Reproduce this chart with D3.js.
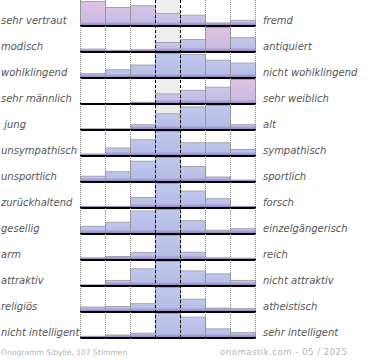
<!DOCTYPE html>
<html>
<head>
<meta charset="utf-8">
<script src="https://cdn.jsdelivr.net/npm/d3@7"></script>
<style>
  html, body { margin: 0; padding: 0; background: #fff; }
  svg { display: block; }
</style>
</head>
<body>
<svg id="chart" width="370" height="360"></svg>
<script>
// ---- data ----
const leftLabels = ["sehr vertraut", "modisch", "wohlklingend", "sehr männlich", " jung",
  "unsympathisch", "unsportlich", "zurückhaltend", "gesellig", "arm", "attraktiv",
  "religiös", "nicht intelligent"];
const rightLabels = ["fremd", "antiquiert", "nicht wohlklingend", "sehr weiblich", "alt",
  "sympathisch", "sportlich", "forsch", "einzelgängerisch", "reich", "nicht attraktiv",
  "atheistisch", "sehr intelligent"];
// votes per scale step (7 steps), 107 votes
const votes = [
  [28, 21, 23, 14, 12, 3, 6],
  [4, 2, 3, 15, 20, 40, 23],
  [4, 8, 13, 25, 24, 18, 15],
  [0, 0, 2, 16, 22, 27, 40],
  [1, 1, 7, 23, 33, 35, 7],
  [2, 10, 21, 32, 17, 17, 8],
  [7, 13, 27, 32, 20, 6, 2],
  [2, 2, 17, 41, 28, 15, 2],
  [9, 14, 28, 30, 16, 4, 6],
  [4, 7, 16, 56, 17, 4, 3],
  [1, 7, 23, 33, 20, 16, 7],
  [8, 9, 14, 43, 22, 6, 5],
  [2, 4, 7, 39, 33, 14, 8]
];
// how far each step is above the average of all names (estimated, 0..1)
const aboveAverage = [
  [1, 0.65, 0.65, 0.45, 0.4, 0.35, 0.3],
  [0.35, 0.35, 0.35, 0.45, 0.2, 1, 0.3],
  [0, 0, 0, 0, 0, 0, 0],
  [0, 0, 0.3, 0.45, 0.35, 0.5, 1],
  [0, 0, 0, 0, 0, 0, 0],
  [0, 0, 0, 0, 0, 0, 0],
  [0, 0, 0, 0, 0, 0, 0],
  [0, 0, 0, 0, 0, 0, 0],
  [0, 0, 0, 0, 0, 0, 0],
  [0, 0, 0, 0, 0, 0, 0],
  [0, 0, 0, 0, 0, 0, 0],
  [0, 0, 0, 0, 0, 0, 0],
  [0, 0, 0, 0, 0, 0, 0]
];
const steps = [0, 1, 2, 3, 4, 5, 6];
const footerLeft = "Onogramm Sibylle, 107 Stimmen";
const footerRight = "onomastik.com - 05 / 2025";

// ---- chart ----
const svg = d3.select("#chart");
const defs = svg.append("defs");

const x = d3.scaleBand().domain(steps).range([80, 255]).paddingInner(0).paddingOuter(0);
const rowIdx = d3.range(leftLabels.length);
const y = d3.scaleBand().domain(rowIdx).range([-1, -1 + 26 * rowIdx.length]).padding(0);
const barMax = 24;

const topColor = d3.scaleLinear().domain([0, 1]).range(["#c0c8ec", "#e0c3e4"]).interpolate(d3.interpolateRgb);
const botColor = d3.scaleLinear().domain([0, 1]).range(["#b4bae6", "#c7b9e0"]).interpolate(d3.interpolateRgb);

// center column background
svg.append("rect")
  .attr("x", x(3)).attr("y", 0)
  .attr("width", x.bandwidth()).attr("height", y(rowIdx.length - 1) + y.bandwidth() + 1)
  .attr("fill", "#eeeeee");

// bottom shade gradient
const shade = defs.append("linearGradient").attr("id", "shade")
  .attr("x1", 0).attr("y1", 0).attr("x2", 0).attr("y2", 1);
shade.append("stop").attr("offset", 0).attr("stop-color", "#8a78b8").attr("stop-opacity", 0);
shade.append("stop").attr("offset", 1).attr("stop-color", "#8a78b8").attr("stop-opacity", 0.75);

const rows = svg.selectAll("g.row").data(rowIdx).join("g").attr("class", "row");

rows.each(function (ri) {
  const g = d3.select(this);
  const base = y(ri) + y.bandwidth();
  const h = d3.scaleLinear().domain([0, d3.max(votes[ri])]).range([0, barMax]);
  const cells = steps.map(s => ({ s, v: votes[ri][s], a: aboveAverage[ri][s], id: `g${ri}_${s}` }))
    .filter(d => d.v > 0);

  cells.forEach(d => {
    const gr = defs.append("linearGradient").attr("id", d.id)
      .attr("x1", 0).attr("y1", 0).attr("x2", 0).attr("y2", 1);
    gr.append("stop").attr("offset", 0).attr("stop-color", topColor(d.a));
    gr.append("stop").attr("offset", 1).attr("stop-color", botColor(d.a));
  });

  g.selectAll("rect.bar").data(cells).join("rect").attr("class", "bar")
    .attr("x", d => x(d.s) + 0.5)
    .attr("y", d => base - h(d.v) + 0.5)
    .attr("width", x.bandwidth())
    .attr("height", d => Math.max(h(d.v), 0.5))
    .attr("fill", d => `url(#${d.id})`)
    .attr("stroke", "#a4a4ac")
    .attr("stroke-width", 1);

  g.selectAll("rect.shade").data(cells).join("rect").attr("class", "shade")
    .attr("x", d => x(d.s) + 1)
    .attr("y", d => base - Math.min(h(d.v), 3.5))
    .attr("width", x.bandwidth() - 1)
    .attr("height", d => Math.min(h(d.v), 3.5))
    .attr("fill", "url(#shade)");
});

// grid lines
const gridBottom = y(rowIdx.length - 1) + y.bandwidth() + 3;
svg.selectAll("line.dot").data([0, 1, 2, 5, 6, 7]).join("line").attr("class", "dot")
  .attr("x1", d => (d < 7 ? x(d) : x(6) + x.bandwidth()) + 0.5)
  .attr("x2", d => (d < 7 ? x(d) : x(6) + x.bandwidth()) + 0.5)
  .attr("y1", 0).attr("y2", gridBottom)
  .attr("stroke", "#888").attr("stroke-width", 1).attr("stroke-dasharray", "1,1");
svg.selectAll("line.dash").data([3, 4]).join("line").attr("class", "dash")
  .attr("x1", d => x(d) + 0.5).attr("x2", d => x(d) + 0.5)
  .attr("y1", 0).attr("y2", gridBottom)
  .attr("stroke", "#000").attr("stroke-width", 1).attr("stroke-dasharray", "3,2");

// baselines
rows.append("line")
  .attr("x1", x(0)).attr("x2", x(6) + x.bandwidth() + 1)
  .attr("y1", ri => y(ri) + y.bandwidth() + 1).attr("y2", ri => y(ri) + y.bandwidth() + 1)
  .attr("stroke", "#000").attr("stroke-width", 2);

// labels
rows.append("text")
  .attr("x", 1).attr("y", ri => y(ri) + y.bandwidth() - 1)
  .attr("font-family", "DejaVu Sans").attr("font-style", "italic").attr("font-size", 10)
  .attr("fill", "#555").style("white-space", "pre")
  .text(ri => leftLabels[ri]);
rows.append("text")
  .attr("x", 263).attr("y", ri => y(ri) + y.bandwidth() - 1)
  .attr("font-family", "DejaVu Sans").attr("font-style", "italic").attr("font-size", 10)
  .attr("fill", "#555")
  .text(ri => rightLabels[ri]);

// footer
svg.append("text").attr("x", 1).attr("y", 355)
  .attr("font-family", "DejaVu Sans").attr("font-size", 7.6).attr("fill", "#b4b4b4")
  .text(footerLeft);
svg.append("text").attr("x", 347).attr("y", 355).attr("text-anchor", "end")
  .attr("font-family", "DejaVu Sans").attr("font-size", 8.6).attr("fill", "#b4b4b4")
  .attr("textLength", 127).attr("lengthAdjust", "spacing")
  .text(footerRight);
</script>
</body>
</html>
